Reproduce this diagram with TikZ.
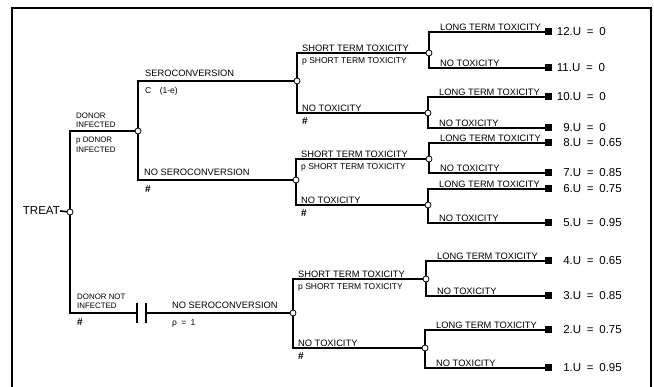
\documentclass[tikz,border=0pt]{standalone}
\usepackage{fontspec}
\setmainfont{Liberation Sans}
\usetikzlibrary{positioning,calc}
\pgfdeclarelayer{background}
\pgfsetlayers{background,main}

\begin{document}
\begin{tikzpicture}[x=1pt, y=-1pt,
  branch/.style={line width=1.6pt},
  chance/.style={circle, draw, fill=white, line width=0.8pt, inner sep=0pt, minimum size=6pt},
  leaf/.style={rectangle, fill=black, inner sep=0pt, minimum size=7pt},
  lbl/.style={font=\fontsize{9.3}{10}\selectfont, inner sep=1pt, anchor=south west},
  lblb/.style={font=\fontsize{8.5}{9}\selectfont, inner sep=1pt, anchor=north west},
  hash/.style={font=\fontsize{10}{11}\selectfont\bfseries, inner sep=1pt, anchor=north west},
  small/.style={font=\fontsize{7.9}{9.5}\selectfont, inner sep=1pt, align=left},
  util/.style={font=\fontsize{11.5}{13}\selectfont, inner sep=0pt, anchor=west}]
\useasboundingbox (0,0) rectangle (654,387);
% ---------- frame ----------
\draw[line width=1.2pt] (12,387) -- (12,8) -- (651,8) -- (651,387);
% ---------- chance nodes ----------
\node[chance] (root) at (70,212) {};
\node[util, anchor=east] (treat) at (60,211) {TREAT};
\node[chance] (di) at (138,131) {};
\node[chance] (sc) at (297,81) {};
\node[chance] (nsc) at (296,180) {};
\node[chance] (nsc2) at (293,313) {};
\node[chance] (a1) at (429,53) {};
\node[chance] (a2) at (428,113) {};
\node[chance] (b1) at (429,159) {};
\node[chance] (b2) at (428,205) {};
\node[chance] (c1) at (426,279) {};
\node[chance] (c2) at (425,348) {};
\coordinate (bar1) at (137,313);
\coordinate (bar2) at (146,313);
% ---------- connectors ----------
\begin{pgfonlayer}{background}
  \draw[branch] (treat.east) -- (root.center);
  \draw[branch] (root.center) |- (di.center);
  \draw[branch] (root.center) |- (bar1);
  \draw[branch] (bar2) -- (nsc2.center);
  \draw[branch] (di.center) |- (sc.center);
  \draw[branch] (di.center) |- (nsc.center);
  \foreach \p/\c in {sc/a1, sc/a2, nsc/b1, nsc/b2, nsc2/c1, nsc2/c2}
    \draw[branch] (\p.center) |- (\c.center);
\end{pgfonlayer}
% the "no choice" bars
\draw[line width=1.5pt] ($(bar1)+(0,-10)$) -- ($(bar1)+(0,10)$);
\draw[line width=1.5pt] ($(bar2)+(0,-10)$) -- ($(bar2)+(0,10)$);
% ---------- first level labels ----------
\node[small, anchor=south west] at (75,129) {DONOR\\INFECTED};
\node[small, anchor=north west] at (75,136) {p DONOR\\INFECTED};
\node[small, anchor=south west] at (76,310) {DONOR NOT\\INFECTED};
\node[hash] at (76,317) {\#};
% ---------- second level labels ----------
\node[lbl] at (144,78) {SEROCONVERSION};
\node[lblb] at (144,86) {C\quad(1-e)};
\node[lbl] at (143,177) {NO SEROCONVERSION};
\node[hash] at (144,184) {\#};
\node[lbl] at (171,310) {NO SEROCONVERSION};
\node[lblb] at (171,318) {ρ\enspace=\enspace1};
% ---------- third level labels ----------
\foreach \p/\c in {sc/a, nsc/b, nsc2/c} {
  \node[lbl] at ([xshift=4pt]\c1 -| \p) {SHORT TERM TOXICITY};
  \node[lblb] at ([xshift=4pt, yshift=-3pt]\c1 -| \p) {p SHORT TERM TOXICITY};
  \node[lbl] at ([xshift=4pt]\c2 -| \p) {NO TOXICITY};
  \node[hash] at ([xshift=4pt, yshift=-3pt]\c2 -| \p) {\#};
}
% ---------- outcomes ----------
\foreach \nm/\p/\yy/\lab in {12/a1/32/LONG TERM TOXICITY, 11/a1/68/NO TOXICITY,
    10/a2/97/LONG TERM TOXICITY, 9/a2/128/NO TOXICITY,
    8/b1/143/LONG TERM TOXICITY, 7/b1/173/NO TOXICITY,
    6/b2/189/LONG TERM TOXICITY, 5/b2/223/NO TOXICITY,
    4/c1/261/LONG TERM TOXICITY, 3/c1/296/NO TOXICITY,
    2/c2/330/LONG TERM TOXICITY, 1/c2/368/NO TOXICITY} {
  \node[leaf] (l\nm) at (548,\yy) {};
  \begin{pgfonlayer}{background}
    \draw[branch] (\p.center) |- (l\nm.center);
  \end{pgfonlayer}
  \node[lbl] at ([xshift=10pt]\p |- l\nm) {\lab};
}
\foreach \nm/\val in {12/0, 11/0, 10/0} 
  \node[util] at ([xshift=5pt]l\nm.east) {\nm.U\enspace=\enspace\val};
\foreach \nm/\val in {9/0, 8/0.65, 7/0.85, 6/0.75, 5/0.95, 4/0.65, 3/0.85, 2/0.75, 1/0.95} 
  \node[util] at ([xshift=5pt]l\nm.east) {\phantom{1}\nm.U\enspace=\enspace\val};
\end{tikzpicture}
\end{document}
